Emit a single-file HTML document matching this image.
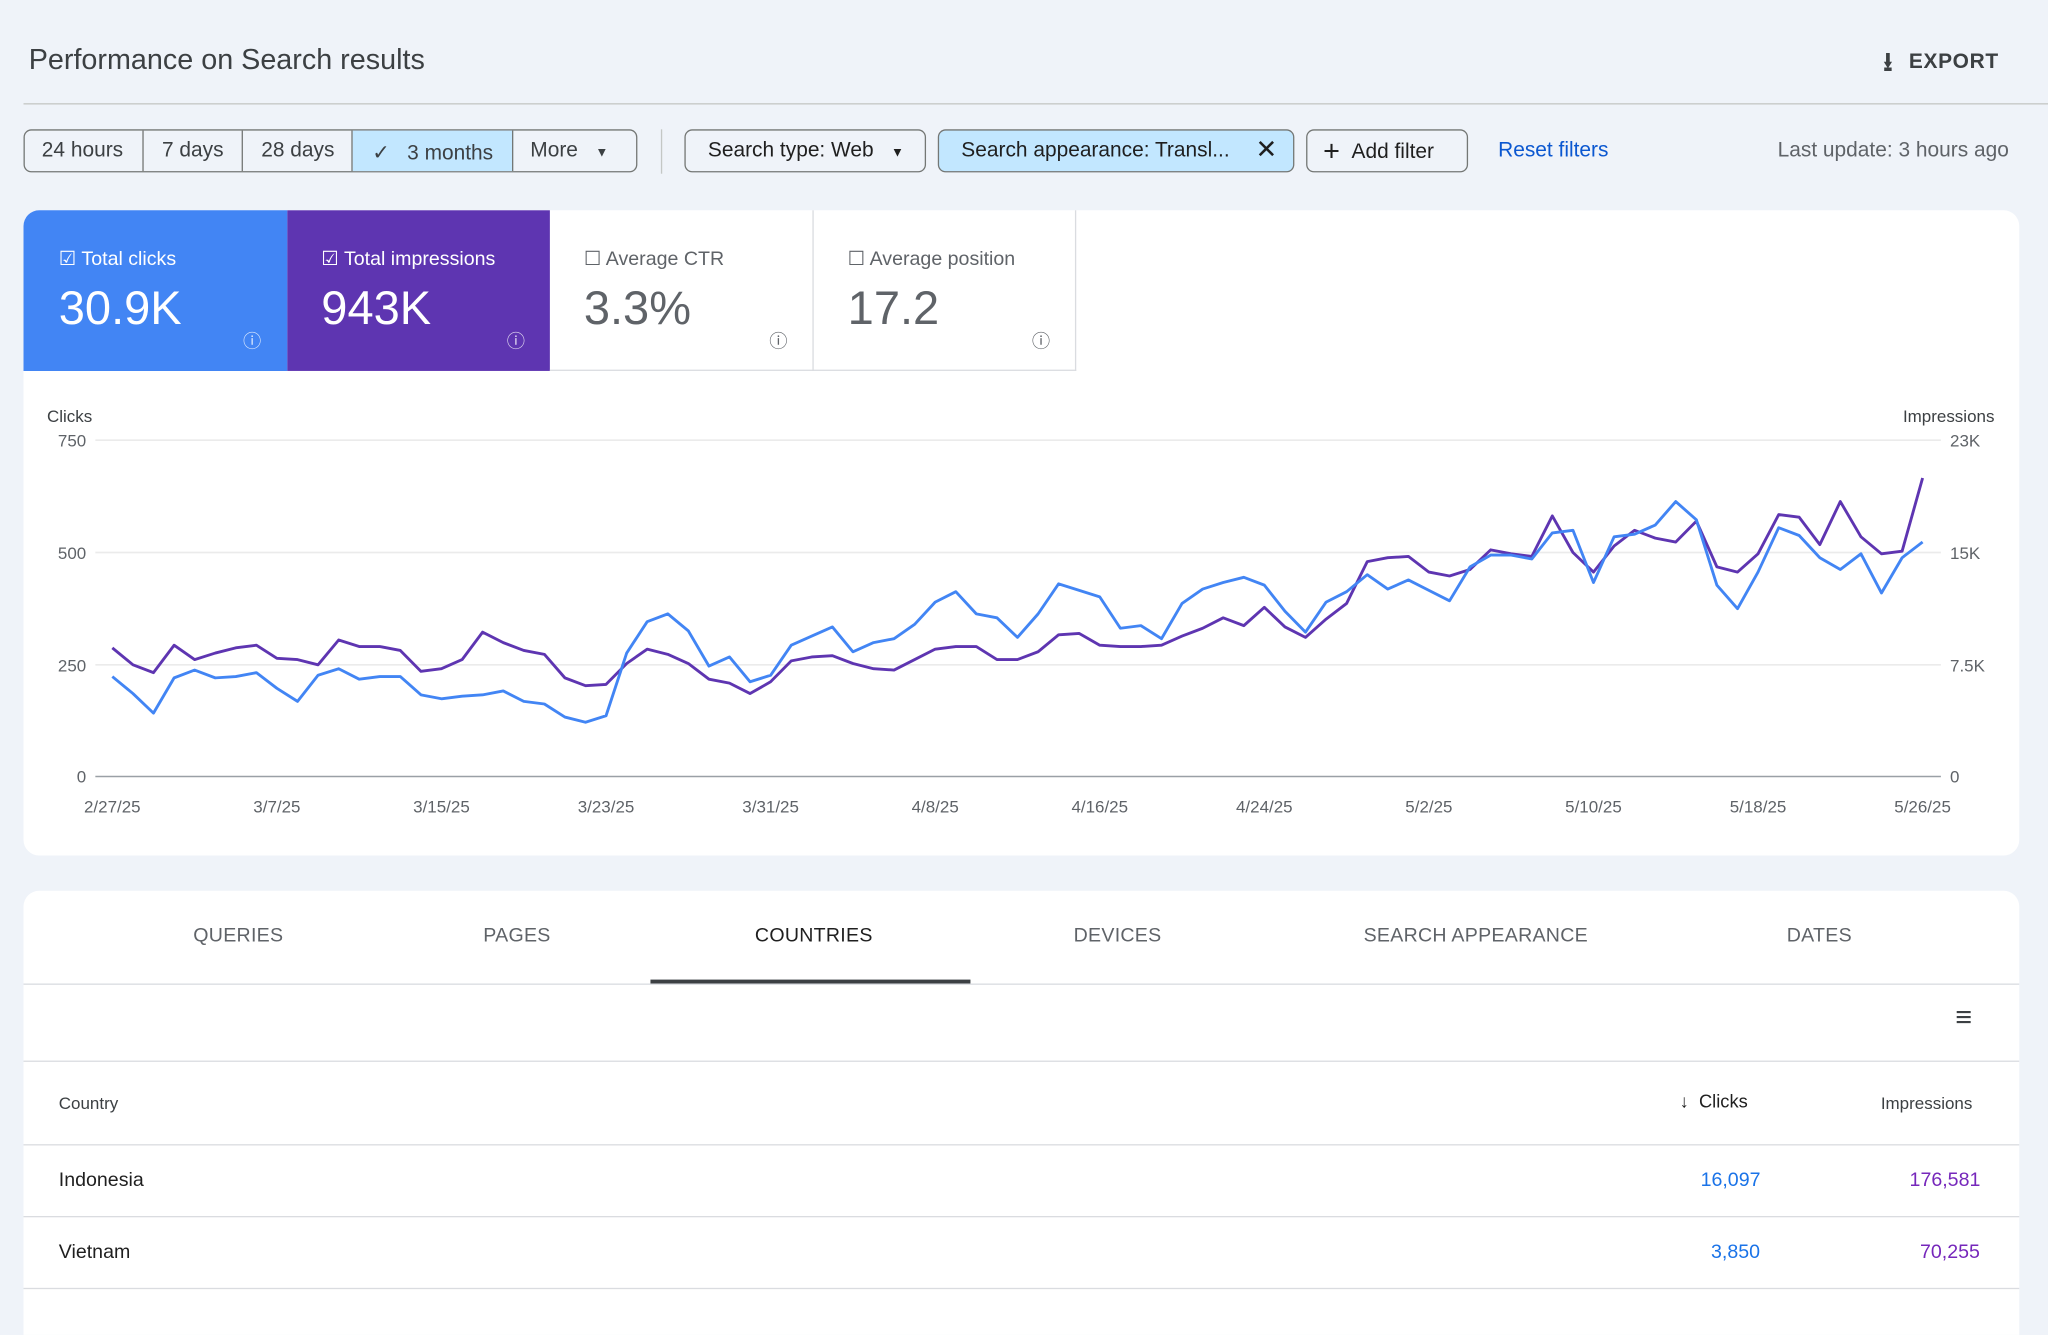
<!DOCTYPE html>
<html><head><meta charset="utf-8"><style>
html,body{margin:0;padding:0;width:2048px;height:1317px;overflow:hidden;background:#eff3f9;}
#w{position:absolute;left:0;top:0;width:1568px;height:1009px;transform:scale(1.30612);transform-origin:0 0;font-family:"Liberation Sans",Arial,sans-serif;color:#3c4043;}
.a{position:absolute;}
.btn{position:absolute;top:99px;height:33px;border:1px solid #747775;border-radius:6px;box-sizing:border-box;font-size:16px;line-height:31px;color:#1f1f1f;}
.card{position:absolute;background:#fff;border-radius:12px;}
.tab{position:absolute;top:708px;font-size:15px;color:#5f6368;letter-spacing:.2px}
</style></head><body><div id="w">
<div class="a" style="left:22px;top:33px;font-size:22px;color:#3c4043">Performance on Search results</div>
<div class="a" style="left:1442px;top:33px;font-size:16px;font-weight:bold;color:#3c4043;letter-spacing:.5px"><span style="font-size:20px;vertical-align:-2px;margin-right:12px">&#x2B73;</span>EXPORT</div>
<div class="a" style="left:18px;top:79px;width:1550px;height:1px;background:#c4c7c5"></div>
<div class="btn" style="left:18px;width:470px;"></div>
<div class="a" style="left:270px;top:100px;width:123px;height:31px;background:#c2e7ff"></div>
<div class="a" style="left:109px;top:100px;width:1px;height:31px;background:#747775"></div>
<div class="a" style="left:185px;top:100px;width:1px;height:31px;background:#747775"></div>
<div class="a" style="left:269px;top:100px;width:1px;height:31px;background:#747775"></div>
<div class="a" style="left:392px;top:100px;width:1px;height:31px;background:#747775"></div>
<div class="a" style="left:32px;top:107px;font-size:16px">24 hours</div>
<div class="a" style="left:124px;top:107px;font-size:16px">7 days</div>
<div class="a" style="left:200px;top:107px;font-size:16px">28 days</div>
<div class="a" style="left:285px;top:107px;font-size:16px">&#10003;&nbsp;&nbsp;&nbsp;3 months</div>
<div class="a" style="left:406px;top:107px;font-size:16px">More&nbsp;&nbsp;&nbsp;<span style="font-size:10px">&#9660;</span></div>
<div class="a" style="left:506px;top:99px;width:1px;height:34px;background:#c4c7c5"></div>
<div class="btn" style="left:524px;width:185px;padding-left:17px">Search type: Web&nbsp;&nbsp;&nbsp;<span style="font-size:10px">&#9660;</span></div>
<div class="btn" style="left:718px;width:273px;padding-left:17px;background:#c2e7ff">Search appearance: Transl...<span style="position:absolute;right:12px;font-size:20px">&#10005;</span></div>
<div class="btn" style="left:1000px;width:124px;padding-left:12px"><span style="font-size:22px;vertical-align:-2px">+</span>&nbsp;&nbsp;Add filter</div>
<div class="a" style="left:1147px;top:107px;font-size:16px;color:#0b57d0">Reset filters</div>
<div class="a" style="left:1361px;top:107px;font-size:16px;color:#5f6368">Last update: 3 hours ago</div>

<div class="card" style="left:18px;top:161px;width:1528px;height:494px"></div>
<div class="a" style="left:18px;top:161px;width:202px;height:123px;background:#4285f4;border-top-left-radius:12px;color:#fff">
<div class="a" style="left:27px;top:28px;font-size:15px">&#9745; Total clicks</div><div class="a" style="left:27px;top:54px;font-size:36px">30.9K</div><div class="a" style="left:168px;top:90px;font-size:14px;opacity:.8">&#9432;</div></div>
<div class="a" style="left:220px;top:161px;width:201px;height:123px;background:#5e35b1;color:#fff">
<div class="a" style="left:26px;top:28px;font-size:15px">&#9745; Total impressions</div><div class="a" style="left:26px;top:54px;font-size:36px">943K</div><div class="a" style="left:168px;top:90px;font-size:14px;opacity:.8">&#9432;</div></div>
<div class="a" style="left:421px;top:161px;width:201px;height:122px;border-right:1px solid #dadce0;border-bottom:1px solid #dadce0;color:#5f6368">
<div class="a" style="left:26px;top:28px;font-size:15px">&#9744; Average CTR</div><div class="a" style="left:26px;top:54px;font-size:36px">3.3%</div><div class="a" style="left:168px;top:90px;font-size:14px">&#9432;</div></div>
<div class="a" style="left:622px;top:161px;width:201px;height:122px;border-right:1px solid #dadce0;border-bottom:1px solid #dadce0;color:#5f6368">
<div class="a" style="left:27px;top:28px;font-size:15px">&#9744; Average position</div><div class="a" style="left:27px;top:54px;font-size:36px">17.2</div><div class="a" style="left:168px;top:90px;font-size:14px">&#9432;</div></div>

<svg class="a" style="left:0;top:0" width="1568" height="660" font-family="Liberation Sans, Arial, sans-serif" font-size="13" fill="#5f6368">
<text x="36" y="323" fill="#3c4043">Clicks</text><text x="1527" y="323" text-anchor="end" fill="#3c4043">Impressions</text>
<g stroke="#ebebeb" stroke-width="1.3"><line x1="73" y1="337" x2="1486" y2="337"/><line x1="73" y1="423" x2="1486" y2="423"/><line x1="73" y1="509" x2="1486" y2="509"/></g>
<line x1="73" y1="594.5" x2="1486" y2="594.5" stroke="#9aa0a6" stroke-width="1.2"/>
<g text-anchor="end"><text x="66" y="342">750</text><text x="66" y="428">500</text><text x="66" y="514">250</text><text x="66" y="599">0</text></g>
<g><text x="1493" y="342">23K</text><text x="1493" y="428">15K</text><text x="1493" y="514">7.5K</text><text x="1493" y="599">0</text></g>
<g text-anchor="middle"><text x="86" y="622">2/27/25</text><text x="212" y="622">3/7/25</text><text x="338" y="622">3/15/25</text><text x="464" y="622">3/23/25</text><text x="590" y="622">3/31/25</text><text x="716" y="622">4/8/25</text><text x="842" y="622">4/16/25</text><text x="968" y="622">4/24/25</text><text x="1094" y="622">5/2/25</text><text x="1220" y="622">5/10/25</text><text x="1346" y="622">5/18/25</text><text x="1472" y="622">5/26/25</text></g>
<polyline id="pp" fill="none" stroke="#5e35b1" stroke-width="2.2" stroke-linejoin="round"/>
<polyline id="bp" fill="none" stroke="#4285f4" stroke-width="2.2" stroke-linejoin="round"/>
</svg>

<div class="card" style="left:18px;top:682px;width:1528px;height:340px;border-bottom-left-radius:0;border-bottom-right-radius:0"></div>
<div class="tab" style="left:148px">QUERIES</div>
<div class="tab" style="left:370px">PAGES</div>
<div class="tab" style="left:578px;color:#1f1f1f">COUNTRIES</div>
<div class="tab" style="left:822px">DEVICES</div>
<div class="tab" style="left:1044px">SEARCH APPEARANCE</div>
<div class="tab" style="left:1368px">DATES</div>
<div class="a" style="left:498px;top:750px;width:245px;height:3px;background:#3c4043"></div>
<div class="a" style="left:18px;top:753px;width:1528px;height:1px;background:#dadce0"></div>
<div class="a" style="left:1497px;top:766px;font-size:22px;color:#3c4043">&#8801;</div>
<div class="a" style="left:18px;top:812px;width:1528px;height:1px;background:#dadce0"></div>
<div class="a" style="left:45px;top:837px;font-size:13px;color:#3c4043">Country</div>
<div class="a" style="left:1286px;top:835px;font-size:14px;color:#1f1f1f">&#8595;&nbsp;&nbsp;Clicks</div>
<div class="a" style="left:1440px;top:837px;font-size:13px;color:#3c4043">Impressions</div>
<div class="a" style="left:18px;top:876px;width:1528px;height:1px;background:#dadce0"></div>
<div class="a" style="left:45px;top:895px;font-size:15px;color:#1f1f1f">Indonesia</div>
<div class="a" style="left:1302px;top:895px;font-size:15px;color:#1a73e8">16,097</div>
<div class="a" style="left:1462px;top:895px;font-size:15px;color:#7627bb">176,581</div>
<div class="a" style="left:18px;top:931px;width:1528px;height:1px;background:#dadce0"></div>
<div class="a" style="left:45px;top:950px;font-size:15px;color:#1f1f1f">Vietnam</div>
<div class="a" style="left:1310px;top:950px;font-size:15px;color:#1a73e8">3,850</div>
<div class="a" style="left:1470px;top:950px;font-size:15px;color:#7627bb">70,255</div>
<div class="a" style="left:18px;top:986px;width:1528px;height:1px;background:#dadce0"></div>
</div>
<script>
var b=[518,531,546,519,513,519,518,515,527,537,517,512,520,518,518,532,535,533,532,529,537,539,549,553,548,500,476,470,483,510,503,522,517,494,487,480,499,492,489,478,461,453,470,473,488,470,447,452,457,481,479,489,462,451,446,442,448,468,484,461,453,440,451,444,452,460,434,425,425,428,408,406,446,411,409,402,384,398,448,466,438,404,410,427,436,424,454,427,415];
var p=[496,509,515,494,505,500,496,494,504,505,509,490,495,495,498,514,512,505,484,492,498,501,519,525,524,508,497,501,508,520,523,531,522,506,503,502,508,512,513,505,497,495,495,505,505,499,486,485,494,495,495,494,487,481,473,479,465,480,488,474,462,430,427,426,438,441,436,421,424,426,395,423,438,418,406,412,415,399,434,438,424,394,396,417,384,411,424,422,366];
function f(a){var s=(1472-86)/(a.length-1);return a.map(function(y,i){return (86+i*s).toFixed(1)+','+y}).join(' ');}
document.getElementById('bp').setAttribute('points',f(b));
document.getElementById('pp').setAttribute('points',f(p));
</script>
</body></html>
